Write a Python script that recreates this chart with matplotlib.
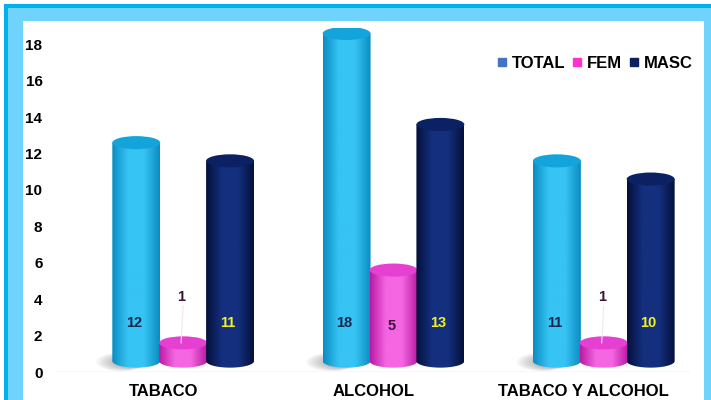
import numpy as np
import matplotlib
matplotlib.use("Agg")
import matplotlib.pyplot as plt
from matplotlib.patches import Ellipse, Rectangle, PathPatch
from matplotlib.path import Path
from matplotlib.lines import Line2D
from matplotlib.colors import LinearSegmentedColormap

plt.rcParams['font.family'] = ['Liberation Sans', 'DejaVu Sans']
plt.rcParams['font.weight'] = 'bold'

categories = ["TABACO", "ALCOHOL", "TABACO Y ALCOHOL"]
series = ["TOTAL", "FEM", "MASC"]
total = [12, 18, 11]
fem = [1, 5, 1]
masc = [11, 13, 10]
yticks = [0, 2, 4, 6, 8, 10, 12, 14, 16, 18]

# edge, middle, top colours for each cylinder series
styles = {
    "TOTAL": ("#0b8cc2", "#36c4f4", "#14a4dc"),
    "FEM": ("#b81aa2", "#f566e2", "#e640d2"),
    "MASC": ("#04103a", "#14307e", "#0b2163"),
}
legend_colors = {"TOTAL": "#4472c4", "FEM": "#ff33cc", "MASC": "#0c1f5e"}
label_colors = {"TOTAL": "#14284e", "FEM": "#3a1438", "MASC": "#f2f222"}

fig = plt.figure(figsize=(7.11, 4.0), dpi=100)

# cyan frame around the picture
W, H = 711.0, 400.0
fig.patches.append(Rectangle((4 / W, 0), 1, 1 - 4 / H, transform=fig.transFigure,
                             facecolor="#00b0ef", edgecolor="none", zorder=-3))
fig.patches.append(Rectangle((8 / W, 0), 1, 1 - 8 / H, transform=fig.transFigure,
                             facecolor="#6fd3fb", edgecolor="none", zorder=-2))
fig.patches.append(Rectangle((23 / W, 0), (704 - 23) / W, 1 - 21 / H, transform=fig.transFigure,
                             facecolor="white", edgecolor="none", zorder=-1))

ax = fig.add_axes([57 / W, 28 / H, (690 - 57) / W, (372 - 28) / H])
ax.patch.set_alpha(0)
ax.set_xlim(-0.6, 2.41)
ax.set_ylim(0, 18.9)

bw = 0.228
step = 0.223
depth = 0.6
eh = 0.72


def cylinder(x, v, key, z):
    c_edge, c_mid, c_top = styles[key]
    x0, x1 = x - bw / 2, x + bw / 2
    base, top = depth, v + depth
    t = np.linspace(np.pi, 2 * np.pi, 40)
    arc = np.column_stack([x + bw / 2 * np.cos(t), base + eh / 2 * np.sin(t)])
    verts = np.vstack([[[x0, top]], arc, [[x1, top]], [[x0, top]]])
    path = Path(verts)
    cmap = LinearSegmentedColormap.from_list(key, [c_edge, c_mid, c_mid, c_edge], N=256)
    grad = np.linspace(0, 1, 256).reshape(1, -1)
    im = ax.imshow(grad, cmap=cmap, aspect="auto", extent=[x0, x1, base - eh, top],
                   zorder=z, interpolation="bicubic")
    clip = PathPatch(path, transform=ax.transData, facecolor="none", edgecolor="none")
    ax.add_patch(clip)
    im.set_clip_path(clip)
    ax.add_patch(Ellipse((x, top), bw, eh, facecolor=c_top, edgecolor="none", zorder=z + 0.1))


# soft shadows behind total bars
for i, v in enumerate(total):
    xs = i - step - 0.07
    for k in range(12):
        ax.add_patch(Ellipse((xs + 0.006 * k, depth - 0.05), 0.24 - 0.016 * k, 1.0 - 0.06 * k,
                             facecolor="#4a4a4a", edgecolor="none", alpha=0.06, zorder=1))

for i in range(len(categories)):
    for j, (key, vals) in enumerate(zip(series, [total, fem, masc])):
        x = i + (j - 1) * step
        cylinder(x, vals[i], key, 2 + j)
        v = vals[i]
        if key == "FEM" and v < 2:
            ly = 4.1
            ax.plot([x, x - 0.01], [ly - 0.45, v + depth], color="#f4e4f0", lw=0.8, zorder=6)
        else:
            ly = 2.7 if key != "FEM" else 2.55
        ax.text(x - 0.01, ly, str(v), ha="center", va="center", fontsize=10.5,
                fontweight="bold", color=label_colors[key], zorder=7)

ax.axhline(0, color="#d9d9d9", lw=1.0, zorder=0)
for s in ax.spines.values():
    s.set_visible(False)
ax.set_yticks(yticks)
ax.set_yticklabels([str(t) for t in yticks], fontsize=11, fontweight="bold")
ax.set_xticks(np.arange(len(categories)) - 0.095)
ax.set_xticklabels(categories, fontsize=12, fontweight="bold")
ax.tick_params(length=0)
ax.tick_params(axis="x", pad=9)
ax.tick_params(axis="y", pad=10.5)

handles = [Line2D([], [], marker="s", ls="none", color=legend_colors[k], markersize=5.5) for k in series]
fig.legend(handles, series, loc="center right", bbox_to_anchor=(708 / W, 1 - 63 / H), ncol=3,
           frameon=False, handletextpad=0.2, columnspacing=0.3, handlelength=0.8,
           prop={"weight": "bold", "size": 12})

fig.savefig("out.png", dpi=100)
